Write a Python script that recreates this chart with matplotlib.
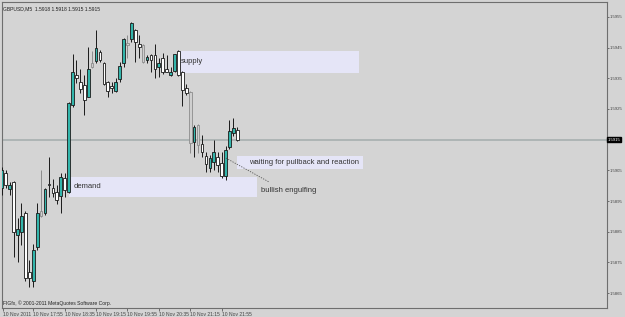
import matplotlib
matplotlib.use("Agg")
import matplotlib.pyplot as plt
import matplotlib.transforms as mtransforms
import numpy as np

plt.rcParams['font.family'] = ['Liberation Sans', 'DejaVu Sans']

# GBPUSD M5, 10 Nov 2011 17:15 - 22:15
opens = [1.58993, 1.59041, 1.58989, 1.59012, 1.58839, 1.58849, 1.58911, 1.58719, 1.58689, 1.58800,
         1.58918, 1.58911, 1.59006, 1.58993, 1.58980, 1.58966, 1.59025, 1.58980, 1.59263, 1.59361,
         1.59338, 1.59328, 1.59289, 1.59387, 1.59407, 1.59436, 1.59400, 1.59338, 1.59325, 1.59309,
         1.59348, 1.59400, 1.59465, 1.59478, 1.59508, 1.59462, 1.59459, 1.59410, 1.59426, 1.59426,
         1.59387, 1.59416, 1.59380, 1.59361, 1.59374, 1.59439, 1.59371, 1.59319, 1.59306, 1.59143,
         1.59198, 1.59136, 1.59097, 1.59058, 1.59077, 1.59094, 1.59074, 1.59032, 1.59126, 1.59172,
         1.59182]
highs = [1.59061, 1.59051, 1.59012, 1.59015, 1.58895, 1.58944, 1.58918, 1.58758, 1.58810, 1.58944,
         1.59051, 1.58993, 1.59094, 1.59022, 1.59002, 1.59041, 1.59041, 1.59273, 1.59429, 1.59410,
         1.59380, 1.59361, 1.59452, 1.59439, 1.59508, 1.59442, 1.59403, 1.59341, 1.59338, 1.59351,
         1.59403, 1.59482, 1.59491, 1.59534, 1.59511, 1.59491, 1.59462, 1.59426, 1.59429, 1.59462,
         1.59416, 1.59433, 1.59426, 1.59387, 1.59429, 1.59442, 1.59374, 1.59332, 1.59309, 1.59198,
         1.59201, 1.59165, 1.59110, 1.59100, 1.59149, 1.59110, 1.59110, 1.59129, 1.59214, 1.59221,
         1.59191]
lows = [1.58970, 1.58993, 1.58970, 1.58768, 1.58751, 1.58807, 1.58689, 1.58670, 1.58670, 1.58790,
        1.58898, 1.58905, 1.58963, 1.58963, 1.58940, 1.58911, 1.58963, 1.58976, 1.59257, 1.59335,
        1.59302, 1.59230, 1.59289, 1.59384, 1.59400, 1.59403, 1.59328, 1.59289, 1.59302, 1.59306,
        1.59338, 1.59387, 1.59416, 1.59469, 1.59403, 1.59416, 1.59400, 1.59400, 1.59371, 1.59351,
        1.59354, 1.59364, 1.59371, 1.59358, 1.59371, 1.59358, 1.59260, 1.59296, 1.59107, 1.59094,
        1.59107, 1.59094, 1.59045, 1.59045, 1.59051, 1.59045, 1.59025, 1.59019, 1.59120, 1.59162,
        1.59146]
closes = [1.59051, 1.59002, 1.59002, 1.58849, 1.58859, 1.58901, 1.58699, 1.58699, 1.58790, 1.58911,
          1.58901, 1.58989, 1.59002, 1.58976, 1.58953, 1.59028, 1.58986, 1.59270, 1.59371, 1.59351,
          1.59315, 1.59279, 1.59380, 1.59400, 1.59449, 1.59410, 1.59332, 1.59309, 1.59319, 1.59338,
          1.59390, 1.59478, 1.59459, 1.59530, 1.59469, 1.59452, 1.59403, 1.59420, 1.59410, 1.59380,
          1.59400, 1.59371, 1.59371, 1.59371, 1.59429, 1.59361, 1.59312, 1.59302, 1.59139, 1.59191,
          1.59133, 1.59110, 1.59071, 1.59090, 1.59110, 1.59068, 1.59032, 1.59116, 1.59178, 1.59188,
          1.59150]
grey_bars = [10, 23, 32, 36, 48, 50]

tick_bars = [8, 16, 24, 32, 40, 48, 56]
tick_labels = ['10 Nov 17:55', '10 Nov 18:35', '10 Nov 19:15', '10 Nov 19:55',
               '10 Nov 20:35', '10 Nov 21:15', '10 Nov 21:55']
price_ticks = [1.5865, 1.5875, 1.5885, 1.5895, 1.5905, 1.5925, 1.5935, 1.5945, 1.5955]
last_price = 1.5915

BG = '#d4d4d4'
TEAL = '#33b5ab'

fig = plt.figure(figsize=(6.25, 3.17), dpi=100, facecolor=BG)
ax = fig.add_axes([0.0035, 0.028, 0.967, 0.966])
ax.set_facecolor(BG)

idx = np.arange(len(opens))
o = np.array(opens); c = np.array(closes)
h = np.array(highs); l = np.array(lows)

fills, edges = [], []
for i in idx:
    if i in grey_bars:
        fills.append('#cfcfcf'); edges.append('#8c8c8c')
    elif c[i] >= o[i]:
        fills.append(TEAL); edges.append('#1a1a1a')
    else:
        fills.append('white'); edges.append('#1a1a1a')

ax.axhline(last_price, color='#aab2b2', lw=1.3, zorder=1)

ax.vlines(idx, l, h, colors=edges, lw=0.7, zorder=3)
body_lo = np.minimum(o, c)
body_h = np.maximum(np.abs(c - o), 0.000005)
ax.bar(idx, body_h, bottom=body_lo, width=0.68, color=fills, edgecolor=edges,
       linewidth=0.6, zorder=4)

# zones and notes
zone = '#e5e5f7'
ax.fill_between([45.3, 91.0], 1.59367, 1.59439, color=zone, lw=0, zorder=2)
ax.fill_between([17.2, 65.0], 1.58963, 1.59029, color=zone, lw=0, zorder=2)
ax.fill_between([59.9, 92.0], 1.59055, 1.59097, color=zone, lw=0, zorder=2)
ax.text(45.5, 1.59405, 'supply', fontsize=5.5, color='#333333', va='center', zorder=5)
ax.text(18.3, 1.58997, 'demand', fontsize=5.5, color='#333333', va='center', zorder=5)
ax.text(63.0, 1.59076, 'waiting for pullback and reaction', fontsize=5.5,
        color='#333333', va='center', zorder=5)
ax.text(66.0, 1.58985, 'bullish engulfing', fontsize=5.5, color='#333333', va='center', zorder=5)
ax.plot([57.1, 68.1], [1.59090, 1.59012], ls=(0, (1.5, 1.5)), color='#555555', lw=0.6, zorder=5)

ax.text(0.4, 1.59575, 'GBPUSD,M5  1.5918 1.5918 1.5915 1.5915', fontsize=3.6,
        color='#222222', va='center')
ax.text(0.4, 1.58618, 'FIGfx, \u00a9 2001-2011 MetaQuotes Software Corp.', fontsize=3.6,
        color='#222222', va='center')

ax.set_xlim(0.08, 154.1)
ax.set_ylim(1.58601, 1.59599)

ax.set_xticks([0.3] + tick_bars)
ax.set_xticklabels(['10 Nov 2011'] + tick_labels, fontsize=3.6, ha='left', color='#222222')
ax.tick_params(axis='x', length=2, width=0.5, pad=1, colors='#444444')
ax.yaxis.tick_right()
ax.set_yticks(price_ticks)
ax.set_yticklabels(['%.4f' % p for p in price_ticks], fontsize=3.1, color='#222222')
ax.tick_params(axis='y', length=1.5, width=0.5, pad=0.8, colors='#444444')

trans = mtransforms.blended_transform_factory(ax.transAxes, ax.transData)
ax.text(1.002, last_price, '%.4f' % last_price, transform=trans, fontsize=3.1,
        color='white', va='center', ha='left',
        bbox=dict(boxstyle='square,pad=0.12', fc='black', ec='black'))

for s in ax.spines.values():
    s.set_color('#6e6e6e')
    s.set_linewidth(0.8)

fig.savefig('out.png', dpi=100, facecolor=BG)
